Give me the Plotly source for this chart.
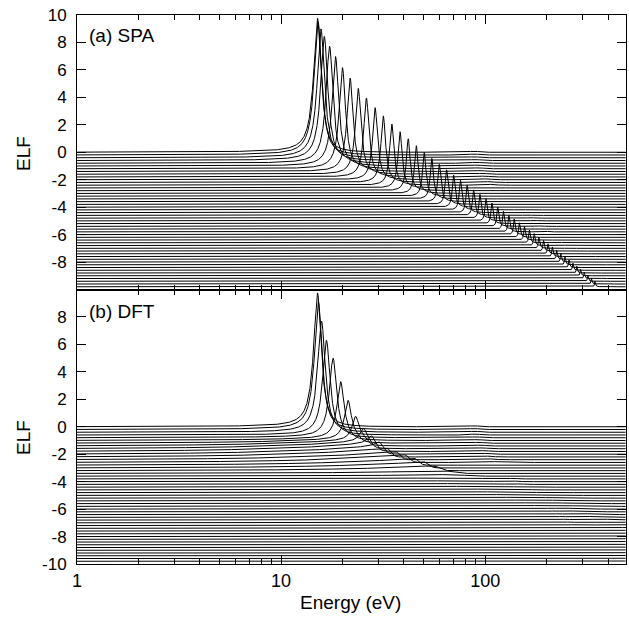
import numpy as np
import plotly.graph_objects as go

# ---------------- data ----------------
OFFSET_STEP = 0.2          # vertical shift between successive spectra
N_CURVES = 50

# optical (q = 0) plasmon
plasmon_eV = 15.1
edge_eV = 88.0             # weak feature seen near 88 eV
edge_height = 0.07

# (a) SPA: plasmon peak position, height and width of each spectrum (top to bottom)
spa_peak_eV = [15.1, 15.2, 15.7, 16.3, 17.3, 18.5, 20.0, 21.8, 23.9, 26.2,
               28.9, 31.7, 34.9, 38.3, 42.0, 46.0, 50.3, 54.8, 59.6, 64.7,
               70.1, 75.7, 81.6, 87.8, 94.3, 101.0, 108.0, 115.3, 122.9, 130.7,
               138.8, 147.2, 155.9, 164.8, 174.0, 183.5, 193.3, 203.3, 213.6, 224.2,
               235.1, 246.2, 257.6, 269.3, 281.3, 293.5, 306.0, 318.8, 331.9, 345.2]
spa_peak_height = [9.76, 9.70, 9.39, 9.04, 8.52, 7.97, 7.37, 6.80, 6.25, 5.75,
                   5.25, 4.85, 4.45, 4.10, 3.78, 3.48, 3.20, 2.95, 2.72, 2.52,
                   2.33, 2.16, 2.00, 1.86, 1.73, 1.61, 1.50, 1.40, 1.30, 1.21,
                   1.13, 1.06, 0.99, 0.93, 0.87, 0.82, 0.77, 0.73, 0.69, 0.65,
                   0.61, 0.58, 0.55, 0.52, 0.50, 0.47, 0.45, 0.43, 0.41, 0.40]
spa_peak_width_eV = [1.56, 1.56, 1.58, 1.60, 1.63, 1.67, 1.71, 1.76, 1.82, 1.88,
                     1.94, 2.00, 2.06, 2.12, 2.18, 2.24, 2.30, 2.36, 2.42, 2.48,
                     2.54, 2.60, 2.66, 2.72, 2.78, 2.84, 2.90, 2.96, 3.02, 3.08,
                     3.14, 3.20, 3.26, 3.32, 3.38, 3.44, 3.50, 3.56, 3.62, 3.68,
                     3.74, 3.80, 3.86, 3.92, 3.98, 4.04, 4.10, 4.16, 4.22, 4.28]

# (b) DFT: damped plasmon peaks (first spectra only)
dft_plasmon_eV = [15.1, 15.25, 15.8, 16.7, 18.0, 19.6, 21.3, 23.2, 25.3, 27.6, 30.2]
dft_plasmon_height = [9.75, 9.3, 8.1, 6.9, 5.7, 4.1, 2.8, 1.7, 0.9, 0.5, 0.25]
dft_plasmon_width_eV = [1.56, 1.58, 1.62, 1.68, 1.76, 1.86, 1.98, 2.15, 2.4, 2.7, 3.0]
# (b) DFT: upper edge, height and edge softness of the electron-hole continuum
dft_cont_edge_eV = [15.5, 16.0, 16.8, 17.8, 19.0, 21.0, 23.0, 25.0, 26.1, 27.7,
                    30.1, 32.8, 36.4, 40.4, 44.8, 49.7, 55.2, 61.2, 66.4, 74.8,
                    83.6, 93.5, 104, 116, 129, 144, 160, 178, 199, 220,
                    245, 271, 302, 335, 373, 413, 460, 510, 560, 620,
                    690, 760, 840, 930, 1030, 1140, 1260, 1400, 1550, 1700]
dft_cont_height = [0.0, 0.0, 0.0, 0.0, 0.10, 0.20, 0.35, 0.50, 0.60, 0.65,
                   0.65, 0.65, 0.60, 0.55, 0.50, 0.45, 0.36, 0.20, 0.12, 0.09,
                   0.08, 0.08, 0.08, 0.07, 0.07, 0.07, 0.07, 0.07, 0.07, 0.07,
                   0.06, 0.06, 0.06, 0.06, 0.06, 0.06, 0.06, 0.06, 0.06, 0.06,
                   0.06, 0.06, 0.06, 0.06, 0.06, 0.06, 0.06, 0.06, 0.06, 0.06]
dft_cont_soft = [0.07, 0.07, 0.07, 0.07, 0.07, 0.07, 0.07, 0.07, 0.07, 0.07,
                 0.07, 0.07, 0.07, 0.07, 0.07, 0.08, 0.10, 0.16, 0.24, 0.30,
                 0.30, 0.30, 0.30, 0.30, 0.30, 0.30, 0.30, 0.30, 0.30, 0.30,
                 0.30, 0.30, 0.30, 0.30, 0.30, 0.30, 0.30, 0.30, 0.30, 0.30,
                 0.30, 0.30, 0.30, 0.30, 0.30, 0.30, 0.30, 0.30, 0.30, 0.30]

x_major = [1, 10, 100]
x_major_text = ["1", "10", "100"]
x_minor = [2, 3, 4, 5, 6, 7, 8, 9, 20, 30, 40, 50, 60, 70, 80, 90, 200, 300, 400]
y_ticks = [-10, -8, -6, -4, -2, 0, 2, 4, 6, 8, 10]
y_text_top = ["", "-8", "-6", "-4", "-2", "0", "2", "4", "6", "8", "10"]
y_text_bot = ["-10", "-8", "-6", "-4", "-2", "0", "2", "4", "6", "8", ""]
E_MIN, E_MAX = 1.0, 490.0


# ---------------- spectral shapes ----------------
def drude(w, wp, g):
    w = np.clip(w, 0.0, None)
    return wp ** 2 * g * w / ((wp ** 2 - w ** 2) ** 2 + (g * w) ** 2)


def shifted_plasmon(E, Ep, H, g):
    """optical Drude ELF shifted by the recoil energy, normalised to height H"""
    Er = Ep - plasmon_eV
    w = E - Er
    f = np.where(w > 0, (np.clip(w, 1e-9, None) / E) * drude(w, plasmon_eV, g), 0.0)
    ww = np.linspace(max(plasmon_eV - 4 * g, 0.01), plasmon_eV + 4 * g, 4001)
    fmax = np.max((ww / (ww + Er)) * drude(ww, plasmon_eV, g))
    return H * f / fmax


def edge_feature(E, Er):
    w = E - Er
    return np.where(w > 0, edge_height * (np.clip(w, 0, None) / E)
                    * np.exp(-((w - edge_eV) / 7.0) ** 2), 0.0)


def continuum(E, Ec, h, soft):
    if h <= 0:
        return np.zeros_like(E)
    rise = h * (E / Ec)
    fall = h * np.exp(-((E - Ec) / (soft * Ec)) ** 2)
    return np.where(E <= Ec, rise, fall)


def grid(centres):
    parts = [np.logspace(np.log10(E_MIN), np.log10(E_MAX), 1400)]
    for c in centres:
        if c < E_MAX * 1.1:
            parts.append(np.linspace(c * 0.85, c * 1.08, 500))
    g = np.unique(np.concatenate(parts))
    return g[(g >= E_MIN) & (g <= E_MAX)]


fig = go.Figure()

# (a) SPA
for i in range(N_CURVES):
    Ep = spa_peak_eV[i]
    E = grid([Ep])
    Er = Ep - plasmon_eV
    y = -OFFSET_STEP * i + shifted_plasmon(E, Ep, spa_peak_height[i], spa_peak_width_eV[i]) \
        + edge_feature(E, Er)
    fig.add_trace(go.Scatter(x=E.astype(np.float32), y=y.astype(np.float32), mode="lines",
                             line=dict(color="black", width=1), hoverinfo="skip",
                             showlegend=False, xaxis="x", yaxis="y"))

# (b) DFT
for i in range(N_CURVES):
    centres = [dft_cont_edge_eV[i]]
    Er = spa_peak_eV[i] - plasmon_eV
    if i < len(dft_plasmon_eV):
        centres.append(dft_plasmon_eV[i])
    E = grid(centres)
    y = -OFFSET_STEP * i + continuum(E, dft_cont_edge_eV[i], dft_cont_height[i],
                                     dft_cont_soft[i]) + edge_feature(E, Er)
    if i < len(dft_plasmon_eV):
        y = y + shifted_plasmon(E, dft_plasmon_eV[i], dft_plasmon_height[i],
                                dft_plasmon_width_eV[i])
    fig.add_trace(go.Scatter(x=E.astype(np.float32), y=y.astype(np.float32), mode="lines",
                             line=dict(color="black", width=1), hoverinfo="skip",
                             showlegend=False, xaxis="x2", yaxis="y2"))

FONT = "Liberation Sans, Arial, Helvetica, sans-serif"

xcommon = dict(type="log", range=[np.log10(E_MIN), np.log10(E_MAX)], showline=True,
               linecolor="black", linewidth=1, mirror="ticks", ticks="inside",
               ticklen=9, tickwidth=1, tickcolor="black", tickvals=x_major,
               ticktext=x_major_text, showgrid=False, zeroline=False,
               minor=dict(ticks="inside", ticklen=5, tickwidth=1, tickcolor="black",
                          tickvals=x_minor, showgrid=False),
               tickfont=dict(size=18, family=FONT, color="black"))
ycommon = dict(range=[-10, 10], showline=True, linecolor="black", linewidth=1,
               mirror="ticks", ticks="inside", ticklen=9, tickwidth=1,
               tickcolor="black", tickvals=y_ticks, showgrid=False, zeroline=False,
               ticklabelstandoff=6, tickfont=dict(size=17, family=FONT, color="black"))

fig.update_layout(
    width=629, height=618,
    margin=dict(l=77, r=3, t=15, b=54),
    plot_bgcolor="white", paper_bgcolor="white",
    font=dict(family=FONT, size=17, color="black"),
    xaxis=dict(xcommon, domain=[0, 1], anchor="y", showticklabels=False),
    xaxis2=dict(xcommon, domain=[0, 1], anchor="y2", matches="x", showticklabels=True),
    yaxis=dict(ycommon, domain=[0.5, 1], anchor="x", ticktext=y_text_top),
    yaxis2=dict(ycommon, domain=[0, 0.5], anchor="x2", ticktext=y_text_bot),
    annotations=[
        dict(text="(a) SPA", x=0.018, y=0.9627, xref="paper", yref="paper",
             xanchor="left", yanchor="middle", showarrow=False,
             font=dict(size=19, family=FONT)),
        dict(text="(b) DFT", x=0.018, y=0.4608, xref="paper", yref="paper",
             xanchor="left", yanchor="middle", showarrow=False,
             font=dict(size=19, family=FONT)),
        dict(text="ELF", x=-0.0984, y=0.7486, xref="paper", yref="paper",
             xanchor="center", yanchor="middle", textangle=-90, showarrow=False,
             font=dict(size=19, family=FONT)),
        dict(text="ELF", x=-0.0984, y=0.2313, xref="paper", yref="paper",
             xanchor="center", yanchor="middle", textangle=-90, showarrow=False,
             font=dict(size=19, family=FONT)),
        dict(text="Energy (eV)", x=0.499, y=-0.071, xref="paper", yref="paper",
             xanchor="center", yanchor="middle", showarrow=False,
             font=dict(size=19, family=FONT)),
    ],
)

# remove the default page margin so the 629x618 figure fills the window exactly
fig.write_html("out.html",
               config={"displayModeBar": False},
               post_script="document.body.style.margin='0';"
                           "document.body.style.overflow='hidden';")
